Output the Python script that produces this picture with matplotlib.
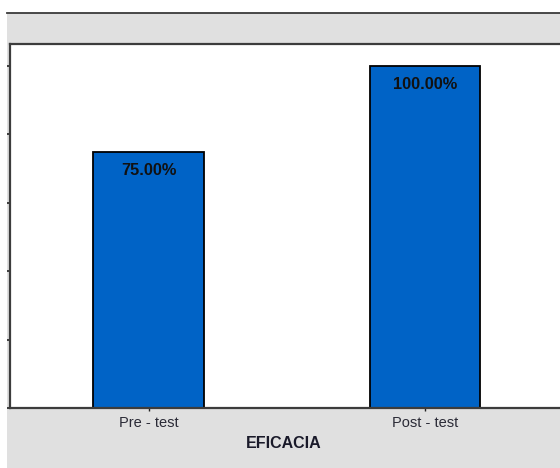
import matplotlib
matplotlib.use("Agg")
import matplotlib.pyplot as plt
from matplotlib.patches import Rectangle
from matplotlib.lines import Line2D

categories = ["Pre - test", "Post - test"]
values = [0.75, 1.00]
x_title = "EFICACIA"

plt.rcParams["font.family"] = ["Liberation Sans", "DejaVu Sans"]

W, H = 560, 468
fig = plt.figure(figsize=(W / 100, H / 100), dpi=100, facecolor="white")

# gray panel behind the chart, with a dark rule along its top
fig.patches.append(Rectangle((7 / W, 0), 1 - 7 / W, 1 - 12.5 / H,
                             transform=fig.transFigure, facecolor="#e0e0e0",
                             edgecolor="none", zorder=-2))
fig.lines.append(Line2D([7 / W, 1], [1 - 12.5 / H] * 2, transform=fig.transFigure,
                        color="#3a3a3a", linewidth=1.3, zorder=-1))

left, right, top, bottom = 10, 566, 43.5, 408
ax = fig.add_axes([left / W, 1 - bottom / H, (right - left) / W, (bottom - top) / H])
ax.set_facecolor("white")

pos = list(range(len(categories)))
ax.bar(pos, values, width=0.4, color="#0063C6", edgecolor="black", linewidth=1.3, zorder=2)

for p, v in zip(pos, values):
    ax.annotate(f"{v * 100:.2f}%", xy=(p, v), xytext=(0, -13.5), textcoords="offset points",
                ha="center", va="center", fontsize=11.8, fontweight="bold", color="#111111")

ax.set_xlim(-0.502, 1.51)
ax.set_ylim(0, 1.0658)
ax.set_yticks([0, 0.2, 0.4, 0.6, 0.8, 1.0])
ax.set_yticklabels([])
ax.set_xticks(pos)
ax.set_xticklabels(categories, fontsize=10.5, color="#2a2a36")
ax.tick_params(axis="x", direction="out", length=2, width=1, pad=3.5, color="#222222")
ax.tick_params(axis="y", direction="out", length=2, width=1.2, color="#222222")

for s in ax.spines.values():
    s.set_color("#3c3c3c")
    s.set_linewidth(1.6)

ax.set_xlabel(x_title, fontsize=11.5, fontweight="bold", color="#1a1a2a")
ax.xaxis.set_label_coords((283.5 - left) / (right - left), -(443 - bottom) / (bottom - top))
ax.xaxis.label.set_verticalalignment("center")

fig.savefig("out.png", dpi=100, facecolor="white")
